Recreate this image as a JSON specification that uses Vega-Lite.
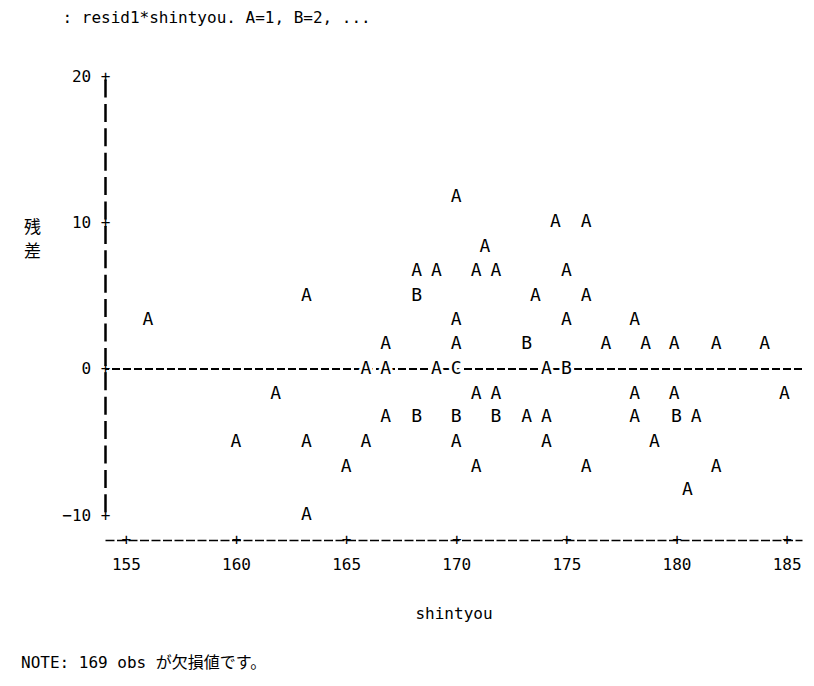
{
  "$schema": "https://vega.github.io/schema/vega-lite/v6.json",
  "width": 697,
  "height": 439,
  "autosize": {"type": "none"},
  "padding": {"left": 105, "top": 76, "right": 12, "bottom": 171},
  "background": "white",
  "config": {
    "view": {"stroke": null},
    "font": "DejaVu Sans Mono, Noto Sans CJK JP, monospace"
  },
  "title": {
    "text": "NOTE: 169 obs が欠損値です。",
    "orient": "bottom",
    "anchor": "start",
    "frame": "group",
    "dx": -84,
    "offset": 34,
    "fontSize": 16,
    "fontWeight": "normal",
    "color": "black",
    "font": "DejaVu Sans Mono, Noto Sans CJK JP, monospace"
  },
  "data": {
    "values": [
      {"x": 170.0, "y": 11.7, "s": "A"},
      {"x": 174.5, "y": 10.0, "s": "A"},
      {"x": 175.9, "y": 10.0, "s": "A"},
      {"x": 171.3, "y": 8.3, "s": "A"},
      {"x": 168.2, "y": 6.7, "s": "A"},
      {"x": 169.1, "y": 6.7, "s": "A"},
      {"x": 170.9, "y": 6.7, "s": "A"},
      {"x": 171.8, "y": 6.7, "s": "A"},
      {"x": 175.0, "y": 6.7, "s": "A"},
      {"x": 163.2, "y": 5.0, "s": "A"},
      {"x": 168.2, "y": 5.0, "s": "B"},
      {"x": 173.6, "y": 5.0, "s": "A"},
      {"x": 175.9, "y": 5.0, "s": "A"},
      {"x": 156.0, "y": 3.3, "s": "A"},
      {"x": 170.0, "y": 3.3, "s": "A"},
      {"x": 175.0, "y": 3.3, "s": "A"},
      {"x": 178.1, "y": 3.3, "s": "A"},
      {"x": 166.8, "y": 1.7, "s": "A"},
      {"x": 170.0, "y": 1.7, "s": "A"},
      {"x": 173.2, "y": 1.7, "s": "B"},
      {"x": 176.8, "y": 1.7, "s": "A"},
      {"x": 178.6, "y": 1.7, "s": "A"},
      {"x": 179.9, "y": 1.7, "s": "A"},
      {"x": 181.8, "y": 1.7, "s": "A"},
      {"x": 184.0, "y": 1.7, "s": "A"},
      {"x": 165.9, "y": 0.0, "s": "A"},
      {"x": 166.8, "y": 0.0, "s": "A"},
      {"x": 169.1, "y": 0.0, "s": "A"},
      {"x": 170.0, "y": 0.0, "s": "C"},
      {"x": 174.1, "y": 0.0, "s": "A"},
      {"x": 175.0, "y": 0.0, "s": "B"},
      {"x": 161.8, "y": -1.7, "s": "A"},
      {"x": 170.9, "y": -1.7, "s": "A"},
      {"x": 171.8, "y": -1.7, "s": "A"},
      {"x": 178.1, "y": -1.7, "s": "A"},
      {"x": 179.9, "y": -1.7, "s": "A"},
      {"x": 184.9, "y": -1.7, "s": "A"},
      {"x": 166.8, "y": -3.3, "s": "A"},
      {"x": 168.2, "y": -3.3, "s": "B"},
      {"x": 170.0, "y": -3.3, "s": "B"},
      {"x": 171.8, "y": -3.3, "s": "B"},
      {"x": 173.2, "y": -3.3, "s": "A"},
      {"x": 174.1, "y": -3.3, "s": "A"},
      {"x": 178.1, "y": -3.3, "s": "A"},
      {"x": 180.0, "y": -3.3, "s": "B"},
      {"x": 180.9, "y": -3.3, "s": "A"},
      {"x": 160.0, "y": -5.0, "s": "A"},
      {"x": 163.2, "y": -5.0, "s": "A"},
      {"x": 165.9, "y": -5.0, "s": "A"},
      {"x": 170.0, "y": -5.0, "s": "A"},
      {"x": 174.1, "y": -5.0, "s": "A"},
      {"x": 179.0, "y": -5.0, "s": "A"},
      {"x": 165.0, "y": -6.7, "s": "A"},
      {"x": 170.9, "y": -6.7, "s": "A"},
      {"x": 175.9, "y": -6.7, "s": "A"},
      {"x": 181.8, "y": -6.7, "s": "A"},
      {"x": 180.5, "y": -8.3, "s": "A"},
      {"x": 163.2, "y": -10.0, "s": "A"}
    ]
  },
  "resolve": {"axis": {"x": "independent"}},
  "layer": [
    {
      "mark": {"type": "rule", "color": "black", "strokeWidth": 1.5, "strokeDash": [8, 3]},
      "encoding": {"y": {"datum": 0, "type": "quantitative"}}
    },
    {
      "mark": {"type": "text", "fontSize": 18, "stroke": "white", "strokeWidth": 6, "fill": "white", "align": "center", "baseline": "middle"},
      "encoding": {
        "x": {
          "field": "x", "type": "quantitative",
          "scale": {"domain": [154.05, 185.7], "nice": false, "zero": false},
          "axis": {
            "orient": "top", "labels": false, "ticks": false, "domain": false, "grid": false,
            "title": ": resid1*shintyou. A=1, B=2, ...",
            "titleX": -43, "titleY": -59, "titleAlign": "left", "titleBaseline": "middle",
            "titleFontSize": 16, "titleFontWeight": "normal", "titleColor": "black"
          }
        },
        "y": {"field": "y", "type": "quantitative"},
        "text": {"field": "s"}
      }
    },
    {
      "mark": {"type": "text", "fontSize": 18, "color": "black", "align": "center", "baseline": "middle"},
      "encoding": {
        "x": {
          "field": "x", "type": "quantitative",
          "scale": {"domain": [154.05, 185.7], "nice": false, "zero": false},
          "axis": {
            "orient": "bottom", "offset": 25, "values": [155, 160, 165, 170, 175, 180, 185],
            "grid": false, "ticks": false,
            "domainColor": "black", "domainWidth": 1.5, "domainDash": [9, 2.5],
            "labelExpr": "['+', datum.label]", "labelLineHeight": 25, "labelPadding": -9,
            "labelBaseline": "top", "labelFontSize": 16, "labelColor": "black",
            "labelFlush": false, "labelOverlap": false, "labelBound": false,
            "title": "shintyou", "titleY": 73, "titleBaseline": "middle",
            "titleFontSize": 16, "titleFontWeight": "normal", "titleColor": "black"
          }
        },
        "y": {
          "field": "y", "type": "quantitative",
          "scale": {"domain": [-10, 20], "nice": false, "zero": false},
          "axis": {
            "values": [-10, 0, 10, 20], "grid": false, "ticks": false,
            "domainColor": "black", "domainWidth": 2.5, "domainDash": [18, 6.4], "domainDashOffset": 21.2,
            "labelExpr": "datum.label + ' +'", "labelPadding": -5, "labelAlign": "right",
            "labelBaseline": "middle", "labelFontSize": 16, "labelColor": "black",
            "labelFlush": false, "labelOverlap": false, "labelBound": false,
            "title": ["残", "差"], "titleAngle": 0, "titleX": -73, "titleY": 151,
            "titleAlign": "center", "titleBaseline": "middle", "titleLineHeight": 24,
            "titleFontSize": 17, "titleFontWeight": "normal", "titleColor": "black",
            "titleFont": "Noto Sans CJK JP"
          }
        },
        "text": {"field": "s"}
      }
    }
  ]
}
